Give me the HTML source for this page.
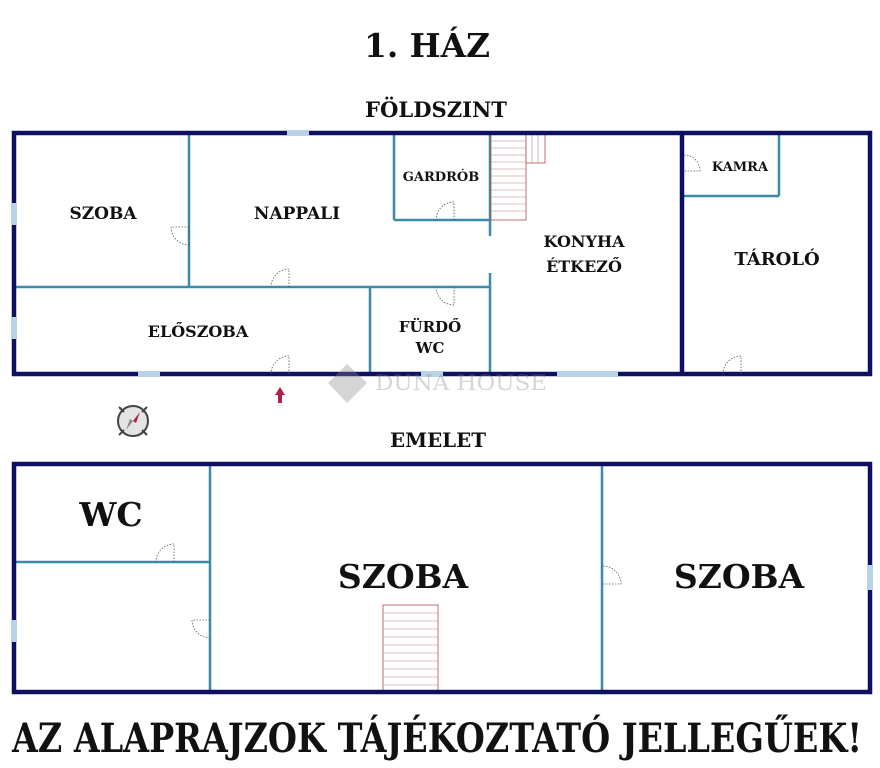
<!DOCTYPE html>
<html><head><meta charset="utf-8"><style>
html,body{margin:0;padding:0;background:#fff;width:880px;height:768px;overflow:hidden}
svg{display:block}
text{font-family:"DejaVu Serif","Liberation Serif",serif;font-weight:bold;fill:#111}
</style></head><body>
<svg width="880" height="768" viewBox="0 0 880 768" xmlns="http://www.w3.org/2000/svg">
<text x="427" y="57" font-size="33" text-anchor="middle" textLength="126" lengthAdjust="spacingAndGlyphs">1. HÁZ</text>
<text x="436" y="117" font-size="21" text-anchor="middle" textLength="142" lengthAdjust="spacingAndGlyphs">FÖLDSZINT</text>
<text x="438" y="447" font-size="20" text-anchor="middle" textLength="96" lengthAdjust="spacingAndGlyphs">EMELET</text>
<text x="437" y="752" font-size="40" text-anchor="middle" textLength="850" lengthAdjust="spacingAndGlyphs">AZ ALAPRAJZOK TÁJÉKOZTATÓ JELLEGŰEK!</text>

<g stroke="#3b8aaa" stroke-width="2.5" fill="none">
<line x1="189" y1="133" x2="189" y2="287"/>
<line x1="14" y1="287" x2="490" y2="287"/>
<line x1="394" y1="133" x2="394" y2="220"/>
<line x1="394" y1="220" x2="490" y2="220"/>
<line x1="490" y1="133" x2="490" y2="236"/>
<line x1="490" y1="273" x2="490" y2="374"/>
<line x1="370" y1="287" x2="370" y2="374"/>
<line x1="779" y1="133" x2="779" y2="196"/>
<line x1="682" y1="196" x2="779" y2="196"/>
<line x1="210" y1="464" x2="210" y2="692"/>
<line x1="602" y1="464" x2="602" y2="692"/>
<line x1="14" y1="562" x2="210" y2="562"/>
</g>
<g stroke="#b05050" stroke-width="0.8" fill="#fff">
<rect x="491" y="134" width="35" height="86"/>
<rect x="526" y="134" width="19" height="29"/>
<rect x="383" y="605" width="55" height="87"/>
</g>
<g stroke="#c08080" stroke-width="0.6">
<path d="M491 141H526M491 148H526M491 155H526M491 162H526M491 169H526M491 176H526M491 183H526M491 190H526M491 197H526M491 204H526M491 211H526"/>
<path d="M532 134V163M538 134V163"/>
<path d="M383 613H438M383 621H438M383 629H438M383 637H438M383 645H438M383 653H438M383 661H438M383 669H438M383 677H438M383 685H438"/>
</g>
<g stroke="#101060" stroke-width="4.5" fill="none">
<rect x="14" y="133" width="856" height="241"/>
<line x1="682" y1="133" x2="682" y2="374"/>
<rect x="14" y="464" width="856" height="228"/>
</g>
<g fill="#b8d2e6">
<rect x="287" y="130" width="22" height="6"/>
<rect x="11" y="203" width="6" height="22"/>
<rect x="11" y="317" width="6" height="22"/>
<rect x="138" y="371" width="22" height="6"/>
<rect x="421" y="371" width="22" height="6"/>
<rect x="557" y="371" width="61" height="6"/>
<rect x="867" y="565" width="6" height="25"/>
<rect x="11" y="620" width="6" height="22"/>
</g>
<g stroke="#555" stroke-width="0.8" stroke-dasharray="1.5 1.5" fill="none">
<path d="M189 227H171A18 18 0 0 0 189 245Z"/>
<path d="M289 287V269A18 18 0 0 0 271 287"/>
<path d="M454 220V202A18 18 0 0 0 436 220"/>
<path d="M454 287V305A18 18 0 0 1 436 287"/>
<path d="M289 374V356A18 18 0 0 0 271 374"/>
<path d="M684 155H686A16 16 0 0 1 700 171H684"/>
<path d="M741 374V356A18 18 0 0 0 723 374"/>
<path d="M174 562V544A18 18 0 0 0 156 562"/>
<path d="M210 620H192A18 18 0 0 0 210 638"/>
<path d="M603 566A18 18 0 0 1 621 584H603"/>
</g>
<text x="103" y="219" font-size="17" text-anchor="middle">SZOBA</text>
<text x="297" y="219" font-size="17" text-anchor="middle">NAPPALI</text>
<text x="441" y="181" font-size="13" text-anchor="middle">GARDRÓB</text>
<text x="584" y="247" font-size="16" text-anchor="middle">KONYHA</text>
<text x="584" y="272" font-size="16" text-anchor="middle">ÉTKEZŐ</text>
<text x="777" y="265" font-size="18" text-anchor="middle">TÁROLÓ</text>
<text x="740" y="171" font-size="13" text-anchor="middle">KAMRA</text>
<text x="198" y="337" font-size="16" text-anchor="middle">ELŐSZOBA</text>
<text x="430" y="332" font-size="15" text-anchor="middle">FÜRDŐ</text>
<text x="430" y="353" font-size="15" text-anchor="middle">WC</text>
<text x="111" y="526" font-size="33" text-anchor="middle">WC</text>
<text x="403" y="588" font-size="33" text-anchor="middle">SZOBA</text>
<text x="739" y="588" font-size="33" text-anchor="middle">SZOBA</text>
<g opacity="0.35">
<path d="M347 364L367 383L347 403L328 383Z" fill="#888"/>
<text x="375" y="390" font-size="21" style="font-weight:normal;fill:#888" textLength="172" lengthAdjust="spacingAndGlyphs">DUNA HOUSE</text>
</g>
<path d="M280 387L285 395H282V403H278V395H275Z" fill="#b02040"/>
<g>
<circle cx="133" cy="421" r="15" fill="#e4e4e4" stroke="#444" stroke-width="2"/>
<path d="M119 407L124 412M147 407L142 412M119 435L124 430M147 435L142 430" stroke="#444" stroke-width="2"/>
<path d="M133 421L140 412L136 423Z" fill="#b02040"/>
<path d="M133 421L126 430L130 419Z" fill="#888"/>
</g>
</svg>
</body></html>
